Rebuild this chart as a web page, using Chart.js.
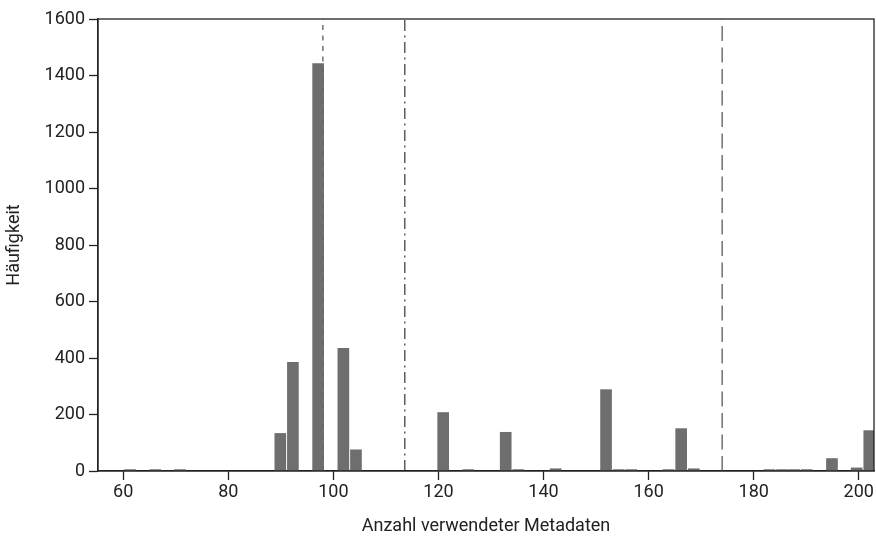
<!DOCTYPE html>
<html>
<head>
<meta charset="utf-8">
<script src="https://cdn.jsdelivr.net/npm/chart.js@4/dist/chart.umd.min.js"></script>
<style>
  html, body { margin: 0; padding: 0; background: #fff; }
  #wrap { width: 876px; height: 541px; }
</style>
</head>
<body>
<div id="wrap"><canvas id="chart"></canvas></div>
<script>
// Bin centres of the histogram (Anzahl verwendeter Metadaten) and their counts
const binCenters = [61.3, 66.1, 70.8, 89.9, 92.3, 97.1, 101.9, 104.3, 120.9, 125.7,
                    132.8, 135.2, 142.3, 151.9, 154.3, 156.7, 163.8, 166.2, 168.6,
                    183.0, 185.4, 187.7, 190.1, 194.9, 199.6, 202.0];
const counts     = [5, 5, 5, 133, 385, 1442, 434, 75, 207, 5,
                    137, 5, 8, 288, 5, 5, 5, 150, 8,
                    5, 5, 5, 5, 44, 11, 143];

// Reference lines
const dottedAt = 98.0;
const dashDotAt = 113.6;
const dashedAt = 174.0;

const xTicks = [60, 80, 100, 120, 140, 160, 180, 200];
const yTicks = [0, 200, 400, 600, 800, 1000, 1200, 1400, 1600];

const FONT = "'Roboto', 'Liberation Sans', sans-serif";
const INK = '#222';

// frame round the plot area plus the three vertical reference lines
const framePlugin = {
    id: 'frame',
    afterDatasetsDraw(chart) {
        const { ctx, chartArea: a, scales: { x } } = chart;
        const vline = (v, color, width, dash) => {
            const px = x.getPixelForValue(v);
            ctx.save();
            ctx.strokeStyle = color;
            ctx.lineWidth = width;
            ctx.setLineDash(dash);
            ctx.beginPath();
            ctx.moveTo(px, a.bottom);
            ctx.lineTo(px, a.top);
            ctx.stroke();
            ctx.restore();
        };
        vline(dottedAt, '#666', 1.4, [5, 5.5]);
        vline(dashDotAt, '#222', 1.1, [11, 4.5, 2, 4.5]);
        vline(dashedAt, '#666', 1.4, [15, 6.5]);

        ctx.save();
        ctx.strokeStyle = INK;
        ctx.lineWidth = 1.3;
        ctx.strokeRect(a.left, a.top, a.right - a.left, a.bottom - a.top);
        ctx.restore();
    }
};

new Chart(document.getElementById('chart'), {
    type: 'bar',
    data: {
        datasets: [{
            data: binCenters.map((c, i) => ({ x: c, y: counts[i] })),
            backgroundColor: '#6e6e6f',
            borderWidth: 0,
            barThickness: 11
        }]
    },
    options: {
        responsive: true,
        maintainAspectRatio: false,
        animation: false,
        layout: { padding: { top: 19, right: 2, left: 0, bottom: 0 } },
        plugins: {
            legend: { display: false },
            tooltip: { enabled: false }
        },
        scales: {
            x: {
                type: 'linear',
                min: 55.2,
                max: 202.9,
                offset: false,
                afterBuildTicks: (s) => { s.ticks = xTicks.map(v => ({ value: v })); },
                afterFit: (s) => { s.height = 70; },
                grid: { drawOnChartArea: false, offset: false, tickLength: 9, tickColor: INK, tickWidth: 1.3 },
                border: { display: true, color: INK, width: 1.3 },
                ticks: { color: INK, font: { family: FONT, size: 18 }, padding: 2, maxRotation: 0,
                         callback: (v) => String(v) },
                title: { display: true, text: 'Anzahl verwendeter Metadaten', color: INK,
                         font: { family: FONT, size: 18 }, padding: { top: 4 } }
            },
            y: {
                min: 0,
                max: 1600,
                afterBuildTicks: (s) => { s.ticks = yTicks.map(v => ({ value: v })); },
                afterFit: (s) => { s.width = 98; },
                grid: { drawOnChartArea: false, tickLength: 9, tickColor: INK, tickWidth: 1.3 },
                border: { display: true, color: INK, width: 1.3 },
                ticks: { color: INK, font: { family: FONT, size: 18 }, padding: 4,
                         callback: (v) => String(v) },
                title: { display: true, text: 'Häufigkeit', color: INK,
                         font: { family: FONT, size: 18 }, padding: { bottom: 4 } }
            }
        }
    },
    plugins: [framePlugin]
});
</script>
</body>
</html>
